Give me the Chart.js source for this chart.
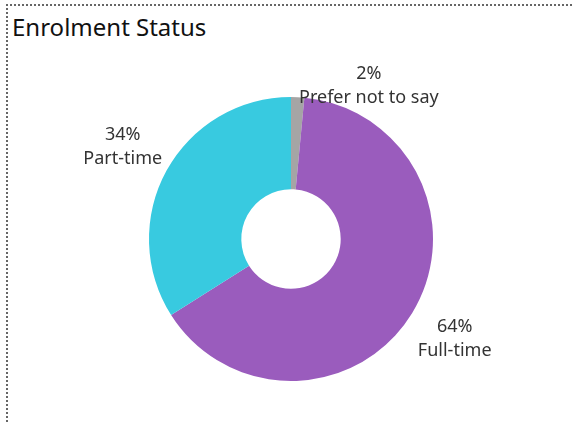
<!DOCTYPE html>
<html>
<head>
<meta charset="utf-8">
<script src="https://cdn.jsdelivr.net/npm/chart.js@4"></script>
<style>
    body { margin: 0; background: #fff; }
    #wrap { position: relative; width: 573px; height: 423px; overflow: hidden; }
    #frame {
        position: absolute; left: 6px; top: 4px; width: 600px; height: 460px;
        border-left: 2px dotted #666; border-top: 2px dotted #666;
    }
    #title {
        position: absolute; left: 12px; top: 10px;
        font-family: "Noto Sans", sans-serif; font-size: 24px; color: #111;
    }
    canvas { position: absolute; left: 0; top: 0; }
</style>
</head>
<body>
<div id="wrap">
    <div id="frame"></div>
    <div id="title">Enrolment Status</div>
    <canvas id="chart" width="573" height="423"></canvas>
</div>
<script>
const categories = ['Prefer not to say', 'Full-time', 'Part-time'];
const shares = [1.5, 64.5, 34.0];
const percentLabels = ['2%', '64%', '34%'];
const colors = ['#a5a5a5', '#9a5cbd', '#38cae0'];

// labels sit outside each slice, along its middle angle
const outsideLabels = {
    id: 'outsideLabels',
    afterDatasetsDraw(chart) {
        const ctx = chart.ctx;
        const arcs = chart.getDatasetMeta(0).data;
        ctx.save();
        ctx.font = '18px "Noto Sans", sans-serif';
        ctx.fillStyle = '#333';
        ctx.textAlign = 'center';
        ctx.textBaseline = 'middle';
        arcs.forEach((arc, i) => {
            let mid = (arc.startAngle + arc.endAngle) / 2;
            let dist = arc.outerRadius + 50;
            // tiny slice: push label aside so it does not sit on the top edge
            if (arc.endAngle - arc.startAngle < 0.2) {
                mid = -Math.PI / 2 + 0.47;
                dist = arc.outerRadius + 30;
            }
            const x = arc.x + Math.cos(mid) * dist;
            const y = arc.y + Math.sin(mid) * dist;
            ctx.fillText(percentLabels[i], x, y - 12);
            ctx.fillText(categories[i], x, y + 12);
        });
        ctx.restore();
    }
};

new Chart(document.getElementById('chart').getContext('2d'), {
    type: 'doughnut',
    data: {
        labels: categories,
        datasets: [{
            data: shares,
            backgroundColor: colors,
            borderWidth: 0,
        }],
    },
    options: {
        responsive: false,
        animation: false,
        cutout: '35%',
        layout: { padding: { left: 149, right: 140, top: 97, bottom: 42 } },
        plugins: {
            legend: { display: false },
            tooltip: { enabled: false },
        },
    },
    plugins: [outsideLabels],
});
</script>
</body>
</html>
